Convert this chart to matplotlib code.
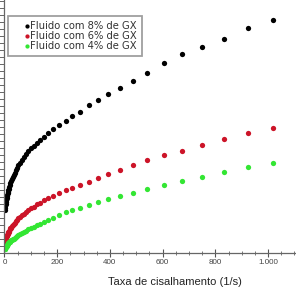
import matplotlib
matplotlib.use("Agg")
from matplotlib import pyplot as plt
from matplotlib.ticker import MultipleLocator, FuncFormatter

# shear rate (1/s), shared by the three fluids
shear_rate = [1, 2, 3, 4, 5, 6, 7, 8, 9, 10, 11.5, 13, 14.5, 16, 18, 20, 22.5, 25, 28, 31,
              34.5, 38.5, 43, 48, 53, 59, 66, 73, 81, 90, 100, 111, 122, 135, 150, 165,
              184, 207, 233, 256, 287, 321, 355, 393, 438, 488, 541, 605, 674, 750,
              833, 924, 1019]

gx_8 = [6.14, 6.43, 6.71, 7.00, 7.29, 7.50, 7.64, 7.86, 8.14, 8.29, 8.50, 8.71, 9.00, 9.21,
        9.43, 9.71, 10.00, 10.29, 10.57, 10.86, 11.07, 11.36, 11.79, 12.14, 12.50, 12.86,
        13.29, 13.71, 14.14, 14.57, 15.00, 15.29, 15.71, 16.14, 16.57, 17.14, 17.71, 18.29,
        18.86, 19.57, 20.14, 21.14, 21.86, 22.71, 23.57, 24.57, 25.71, 27.14, 28.43, 29.43,
        30.57, 32.14, 33.29]

gx_6 = [1.57, 1.64, 1.79, 1.93, 2.07, 2.21, 2.29, 2.43, 2.50, 2.57, 2.71, 2.86, 3.00, 3.07,
        3.21, 3.36, 3.50, 3.64, 3.79, 3.93, 4.07, 4.29, 4.50, 4.71, 4.93, 5.14, 5.36, 5.57,
        5.86, 6.07, 6.36, 6.64, 6.93, 7.21, 7.50, 7.79, 8.21, 8.64, 9.00, 9.29, 9.71, 10.14,
        10.71, 11.29, 11.86, 12.57, 13.29, 14.00, 14.57, 15.43, 16.29, 17.14, 17.86]

gx_4 = [0.57, 0.64, 0.71, 0.79, 0.86, 0.93, 1.00, 1.07, 1.14, 1.21, 1.29, 1.36, 1.43, 1.50,
        1.57, 1.64, 1.71, 1.79, 1.86, 1.93, 2.00, 2.14, 2.29, 2.43, 2.57, 2.71, 2.86, 3.00,
        3.14, 3.36, 3.50, 3.71, 3.93, 4.14, 4.43, 4.71, 5.00, 5.43, 5.79, 6.14, 6.43, 6.86,
        7.29, 7.71, 8.14, 8.57, 9.14, 9.71, 10.29, 10.86, 11.57, 12.29, 12.86]

labels = ["Fluido com 8% de GX", "Fluido com 6% de GX", "Fluido com 4% de GX"]
colors = ["#000000", "#cc1428", "#33e633"]

plt.rcParams['font.family'] = ['Liberation Sans', 'DejaVu Sans']

fig = plt.figure(figsize=(2.96, 2.96), dpi=100)
ax = fig.add_axes([0.0152, 0.1453, 0.9848, 0.8547])

for y, lab, c in zip([gx_8, gx_6, gx_4], labels, colors):
    ax.plot(shear_rate, y, 'o', color=c, ms=3.8, mew=0, label=lab)

ax.set_xlim(0, 1106)
ax.set_ylim(0, 36.14)

for side in ['top', 'right']:
    ax.spines[side].set_visible(False)
for side in ['left', 'bottom']:
    ax.spines[side].set_color('#666666')
    ax.spines[side].set_linewidth(0.9)

ax.xaxis.set_major_locator(MultipleLocator(200))
ax.xaxis.set_minor_locator(MultipleLocator(50))
ax.xaxis.set_major_formatter(FuncFormatter(lambda v, p: f"{int(v):,}".replace(",", ".")))
ax.tick_params(axis='x', which='major', direction='inout', length=6, width=0.8,
               color='#555555', labelsize=5.8, labelcolor='#444444', pad=1.5)
ax.tick_params(axis='x', which='minor', direction='inout', length=3, width=0.7,
               color='#777777')

ax.yaxis.set_major_locator(MultipleLocator(1))
ax.tick_params(axis='y', which='major', direction='out', length=3.5, width=0.7,
               color='#666666', labelleft=False)

ax.set_xlabel("Taxa de cisalhamento (1/s)", fontsize=8, color='#222222')
ax.xaxis.set_label_coords(0.585, -0.095)

leg = ax.legend(loc='upper left', bbox_to_anchor=(0.012, 0.935),
                prop={'family': 'DejaVu Sans', 'size': 7.2},
                handlelength=2.8, handletextpad=-1.1, labelspacing=0.0,
                borderpad=0.5, borderaxespad=0, markerscale=0.8,
                frameon=True, fancybox=False, edgecolor='#888888')
leg.get_frame().set_linewidth(1.3)
for t in leg.get_texts():
    t.set_color('#333333')

plt.savefig('out.png', dpi=100)
